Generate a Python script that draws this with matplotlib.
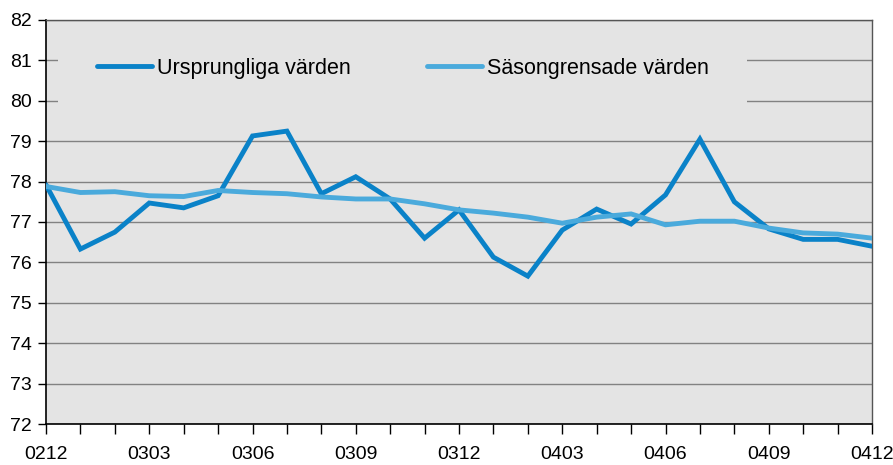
import matplotlib.pyplot as plt
from matplotlib.patches import Rectangle

# Månader 0212 .. 0412
months = ['0212', '0301', '0302', '0303', '0304', '0305', '0306', '0307', '0308',
          '0309', '0310', '0311', '0312', '0401', '0402', '0403', '0404', '0405',
          '0406', '0407', '0408', '0409', '0410', '0411', '0412']

ursprungliga = [77.92, 76.33, 76.75, 77.47, 77.35, 77.65, 79.13, 79.25, 77.70,
                78.12, 77.57, 76.60, 77.30, 76.13, 75.66, 76.80, 77.32, 76.95,
                77.67, 79.05, 77.50, 76.83, 76.57, 76.57, 76.40]

sasongrensade = [77.88, 77.73, 77.75, 77.65, 77.63, 77.78, 77.73, 77.70, 77.62,
                 77.57, 77.57, 77.45, 77.30, 77.22, 77.12, 76.97, 77.12, 77.20,
                 76.93, 77.02, 77.02, 76.85, 76.73, 76.70, 76.60]

labels = ['Ursprungliga värden', 'Säsongrensade värden']

plt.rcParams['font.family'] = ['Liberation Sans', 'DejaVu Sans']

fig = plt.figure(figsize=(8.93, 4.65), dpi=100)
ax = fig.add_axes([46 / 893, 41 / 465, 826 / 893, 404 / 465])
ax.set_facecolor('#e4e4e4')

x = list(range(len(months)))
ax.plot(x, ursprungliga, color='#0a82c8', lw=3.5, label=labels[0],
        solid_joinstyle='miter', solid_capstyle='round', zorder=3)
ax.plot(x, sasongrensade, color='#4aaadc', lw=3.5, label=labels[1],
        solid_joinstyle='miter', solid_capstyle='round', zorder=4)

ax.set_xlim(0, len(months) - 1)
ax.set_ylim(72, 82)
ax.set_yticks(range(72, 83))
ax.set_xticks(x)
ax.set_xticklabels([m if i % 3 == 0 else '' for i, m in enumerate(months)])

ax.set_axisbelow(True)
ax.yaxis.grid(True, color='#828282', lw=1.0)
ax.xaxis.grid(False)

for side in ['left', 'bottom']:
    ax.spines[side].set_color('black')
    ax.spines[side].set_linewidth(1.2)
for side in ['top', 'right']:
    ax.spines[side].set_color('#555555')
    ax.spines[side].set_linewidth(1.0)

ax.tick_params(axis='y', length=6, width=1, labelsize=14, pad=4)
ax.tick_params(axis='x', length=7, width=1, labelsize=14, pad=9)

# legend area hides the upper grid lines
ax.add_patch(Rectangle((12 / 826, 0.75), (747 - 58) / 826, 0.24,
                       transform=ax.transAxes, facecolor='#e4e4e4',
                       edgecolor='none', zorder=1))

ax.legend(loc='center left', bbox_to_anchor=(51 / 826, 0.881), ncol=2,
          frameon=False, fontsize=15.5, handlelength=2.56, handletextpad=0.23,
          columnspacing=3.55, borderpad=0, borderaxespad=0)

fig.savefig('out.png', dpi=100)
